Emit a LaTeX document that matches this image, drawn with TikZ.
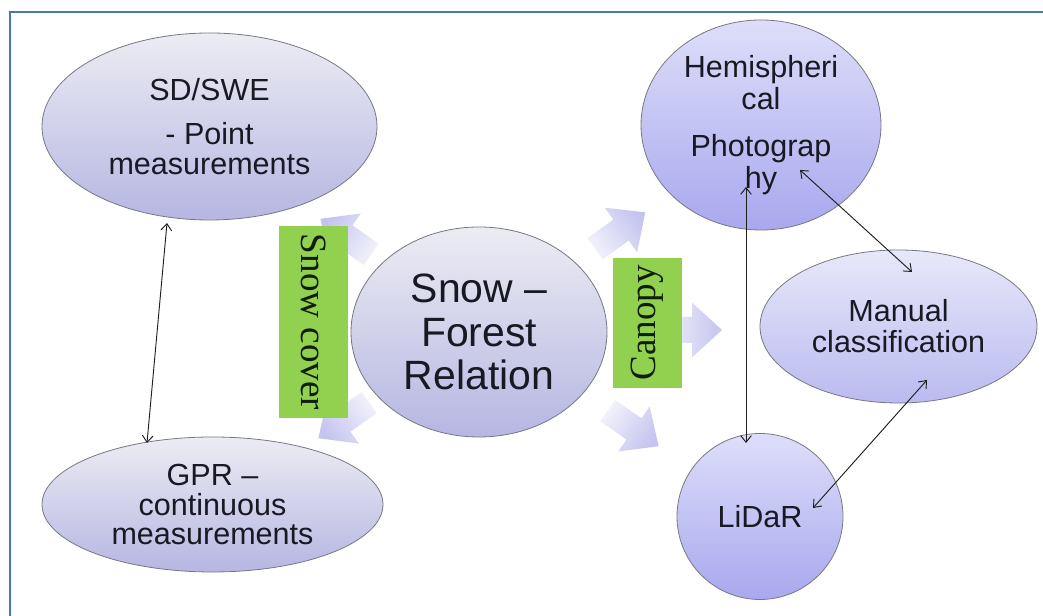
\documentclass[tikz,border=0pt]{standalone}
\usepackage{fontspec}
\setmainfont{Liberation Sans}
\newfontfamily\timesfont{Liberation Serif}
\usetikzlibrary{shapes.geometric,arrows.meta,calc}

\definecolor{framec}{RGB}{74,118,178}
\definecolor{greenbox}{RGB}{146,208,80}
\definecolor{greentext}{RGB}{15,30,10}
\definecolor{ellborder}{RGB}{120,120,132}
\definecolor{ltop}{RGB}{236,236,244}
\definecolor{lbot}{RGB}{182,182,226}
\definecolor{rtop}{RGB}{222,222,250}
\definecolor{rbot}{RGB}{168,168,238}
\definecolor{mtop}{RGB}{232,232,250}
\definecolor{mbot}{RGB}{186,186,240}
\definecolor{arrtail}{RGB}{242,242,251}
\definecolor{arrhead}{RGB}{196,196,240}
\definecolor{textc}{RGB}{25,25,35}
\definecolor{connc}{RGB}{30,30,30}

\tikzset{
  ell/.style={ellipse, draw=ellborder, line width=0.6pt, inner sep=0pt, outer sep=0pt,
    align=center, text=textc, font=\fontsize{22.9pt}{22.5pt}\selectfont},
  leftell/.style={ell, top color=ltop, bottom color=lbot},
  rightell/.style={ell, top color=rtop, bottom color=rbot},
  manell/.style={ell, top color=mtop, bottom color=mbot},
  greenlabel/.style={fill=greenbox, inner sep=0pt, outer sep=0pt, text=greentext,
    font=\timesfont\fontsize{27.8pt}{30pt}\selectfont},
  conn/.style={draw=connc, line width=0.7pt, >={Straight Barb[length=5pt,width=8pt]}, <->},
  pics/blockarrow/.style={code={
    \pgfmathsetmacro\barang{#1-90}
    \shade[shading=axis, bottom color=arrtail, top color=arrhead, shading angle=\barang]
      ({#1+180}:32) ++({#1+90}:13) -- ({#1+90}:13) -- ({#1+90}:27.5) -- (#1:30)
      -- ({#1-90}:27.5) -- ({#1-90}:13) -- ++({#1+180}:32) -- cycle;
  }}
}

\begin{document}
\begin{tikzpicture}[x=0.75pt,y=0.75pt]
\useasboundingbox (0,0) rectangle (1043,616);
\fill[white] (0,0) rectangle (1043,616);

% frame
\draw[framec, line width=1.9pt, line join=miter] (10,-2) -- (10,604) -- (1045,604);

% block arrows
\pic at (345,380) {blockarrow=145};
\pic at (343,195) {blockarrow=215};
\pic at (621,386) {blockarrow=36};
\pic at (692,286) {blockarrow=0};
\pic at (634,187) {blockarrow=-35};

% ellipses
\node[leftell, minimum width=251.25pt, minimum height=140.25pt] (sd) at (209.5,489.5)
  {SD/SWE\\[10.5pt]- Point\\measurements};
\node[leftell, minimum width=255.75pt, minimum height=101.25pt,
  font=\fontsize{22.9pt}{22pt}\selectfont] (gpr) at (212.5,111.5)
  {GPR –\\continuous\\measurements};
\node[leftell, minimum width=192pt, minimum height=157.5pt,
  font=\fontsize{30.7pt}{32.6pt}\selectfont] (sfr) at (479,284)
  {Snow –\\Forest\\Relation};
\node[rightell, minimum width=180pt, minimum height=157.5pt,
  font=\fontsize{22.9pt}{24pt}\selectfont] (hemi) at (761,491)
  {Hemispheri\\cal\\[11.25pt]Photograp\\hy};
\node[manell, minimum width=207.75pt, minimum height=114.75pt,
  font=\fontsize{22.9pt}{23.25pt}\selectfont] (manual) at (898.5,289.5)
  {Manual\\classification};
\node[rightell, minimum width=124.5pt, minimum height=124.5pt] (lidar) at (760,99.5)
  {LiDaR};

% green labels
\node[greenlabel, rotate=-90, minimum width=144pt, minimum height=51.75pt] (snowlbl)
  at (313.5,294) {Snow cover};
\node[greenlabel, rotate=90, minimum width=97.5pt, minimum height=51.75pt] (canopylbl)
  at (647.5,293) {Canopy};

% connector end points
\coordinate (sdA) at (167,393);
\coordinate (gprA) at (147,173);
\coordinate (hemiA) at (746,429);
\coordinate (lidarA) at (746,173);
\coordinate (hemiB) at (800,446);
\coordinate (manualB) at (912,344);
\coordinate (manualC) at (927,236);
\coordinate (lidarC) at (813,108);

\draw[conn] (sdA) -- (gprA);
\draw[conn] (hemiA) -- (lidarA);
\draw[conn] (hemiB) -- (manualB);
\draw[conn] (manualC) -- (lidarC);
\end{tikzpicture}
\end{document}
